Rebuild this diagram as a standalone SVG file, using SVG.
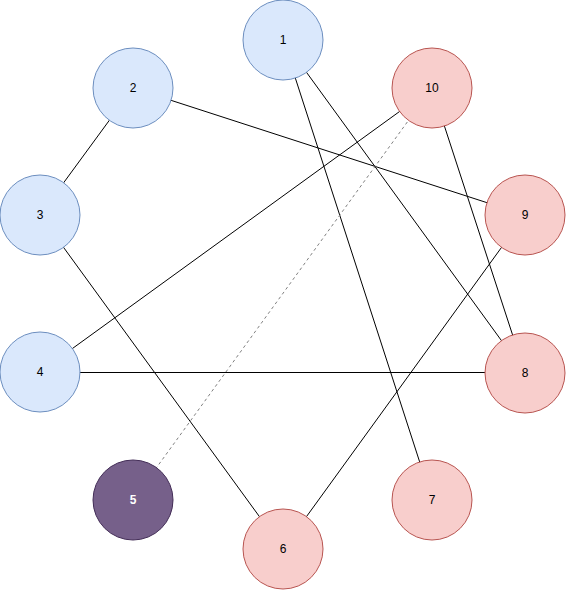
<svg xmlns="http://www.w3.org/2000/svg" width="566" height="590" viewBox="0 0 566 590">
<style>
.e{stroke:#000;stroke-width:1;fill:none}
.d{stroke:#808080;stroke-width:1;stroke-dasharray:3 3;fill:none}
.b{fill:#dae8fc;stroke:#6c8ebf;stroke-width:1}
.r{fill:#f8cecc;stroke:#b85450;stroke-width:1}
.p{fill:#76608a;stroke:#432d57;stroke-width:1}
text{font-family:"Liberation Sans",Arial,sans-serif;font-size:12px;text-anchor:middle;dominant-baseline:central;fill:#000}
.w{fill:#fff}
</style>
<rect width="566" height="590" fill="#fff"/>
<g id="edges">
<line class="e" x1="133" y1="88" x2="40" y2="215"/>
<line class="e" x1="133" y1="88" x2="525" y2="215"/>
<line class="e" x1="283" y1="40" x2="525" y2="373"/>
<line class="e" x1="283" y1="40" x2="432" y2="500"/>
<line class="e" x1="432" y1="88" x2="40" y2="372"/>
<line class="e" x1="432" y1="88" x2="525" y2="373"/>
<line class="d" x1="432" y1="88" x2="133" y2="500"/>
<line class="e" x1="40" y1="215" x2="283" y2="549"/>
<line class="e" x1="525" y1="215" x2="283" y2="549"/>
<line class="e" x1="40" y1="372.5" x2="525" y2="372.5"/>
</g>
<g id="n1"><circle class="b" cx="283" cy="40" r="40"/><text x="283" y="40">1</text></g>
<g id="n2"><circle class="b" cx="133" cy="88" r="40"/><text x="133" y="88">2</text></g>
<g id="n3"><circle class="b" cx="40" cy="215" r="40"/><text x="40" y="215">3</text></g>
<g id="n4"><circle class="b" cx="40" cy="372" r="40"/><text x="40" y="372">4</text></g>
<g id="n5"><circle class="p" cx="133" cy="500" r="40"/><text class="w" x="133" y="500" font-weight="bold">5</text></g>
<g id="n6"><circle class="r" cx="283" cy="549" r="40"/><text x="283" y="549">6</text></g>
<g id="n7"><circle class="r" cx="432" cy="500" r="40"/><text x="432" y="500">7</text></g>
<g id="n8"><circle class="r" cx="525" cy="373" r="40"/><text x="525" y="373">8</text></g>
<g id="n9"><circle class="r" cx="525" cy="215" r="40"/><text x="525" y="215">9</text></g>
<g id="n10"><circle class="r" cx="432" cy="88" r="40"/><text x="432" y="88">10</text></g>
</svg>
